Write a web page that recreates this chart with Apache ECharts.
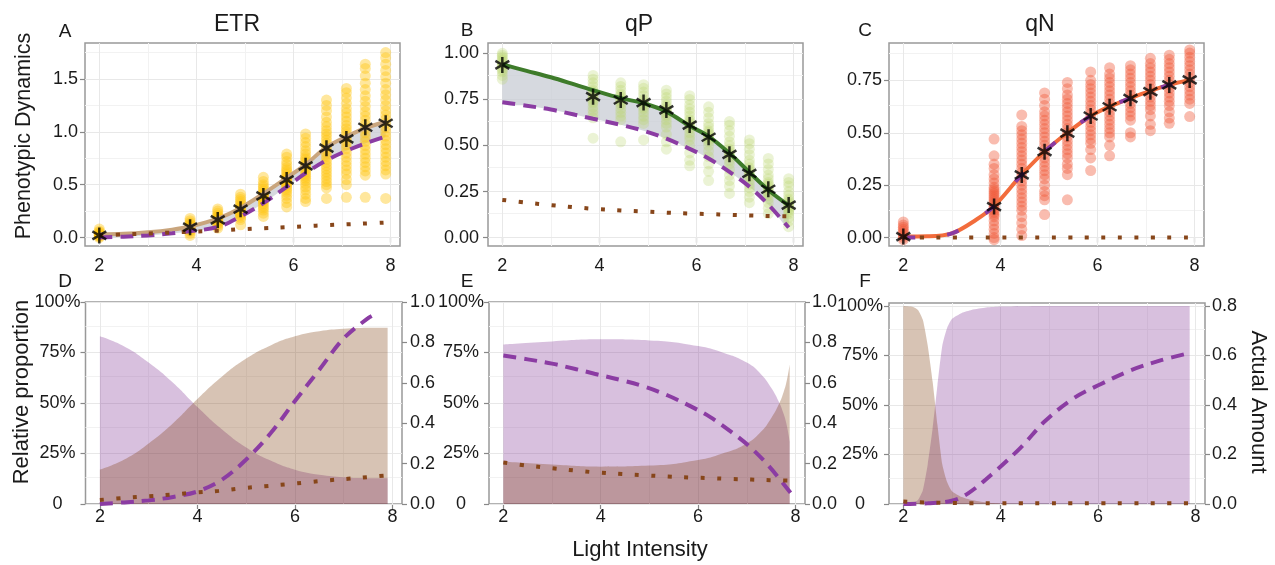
<!DOCTYPE html>
<html><head><meta charset="utf-8">
<script src="https://cdn.jsdelivr.net/npm/echarts@6/dist/echarts.min.js"></script>
<style>html,body{margin:0;padding:0;background:#fff}#c{width:1275px;height:565px}</style>
</head><body><div id="c"></div>
<script>
const FONT = '"Liberation Sans", Arial, Helvetica, sans-serif';
const TXT = '#1a1a1a';

// ---------- x positions (log light intensity) ----------
const lightX = [2.0, 3.87, 4.44, 4.91, 5.38, 5.86, 6.25, 6.68, 7.09, 7.48, 7.90];
const fitX = [2, 2.5, 3, 3.5, 3.87, 4.44, 4.91, 5.38, 5.86, 6.25, 6.68, 7.09, 7.48, 7.9];

// ---------- Panel A: ETR ----------
const etrPoints = [
  [0.0, 0.01, 0.015, 0.02, 0.025, 0.03, 0.035, 0.04, 0.05, 0.06, 0.08],
  [0.02, 0.04, 0.06, 0.07, 0.08, 0.09, 0.1, 0.105, 0.11, 0.12, 0.13, 0.14, 0.16, 0.18],
  [0.09, 0.11, 0.13, 0.14, 0.15, 0.16, 0.17, 0.18, 0.19, 0.2, 0.21, 0.23, 0.25, 0.27],
  [0.12, 0.17, 0.19, 0.21, 0.22, 0.23, 0.24, 0.25, 0.26, 0.27, 0.28, 0.29, 0.3, 0.32, 0.34, 0.36, 0.38, 0.41],
  [0.2, 0.23, 0.26, 0.28, 0.3, 0.32, 0.34, 0.35, 0.36, 0.37, 0.38, 0.39, 0.4, 0.41, 0.42, 0.44, 0.46, 0.48, 0.5, 0.53, 0.57],
  [0.29, 0.33, 0.37, 0.4, 0.43, 0.45, 0.47, 0.49, 0.5, 0.51, 0.52, 0.53, 0.54, 0.55, 0.56, 0.57, 0.58, 0.6, 0.62, 0.64, 0.66, 0.69, 0.72, 0.76, 0.79],
  [0.34, 0.37, 0.41, 0.45, 0.48, 0.51, 0.54, 0.56, 0.58, 0.6, 0.62, 0.64, 0.66, 0.68, 0.7, 0.72, 0.74, 0.76, 0.79, 0.82, 0.86, 0.9, 0.94, 0.98],
  [0.37, 0.47, 0.5, 0.53, 0.56, 0.59, 0.62, 0.65, 0.68, 0.71, 0.74, 0.77, 0.8, 0.83, 0.86, 0.89, 0.92, 0.95, 0.98, 1.01, 1.05, 1.09, 1.14, 1.2, 1.25, 1.3],
  [0.38, 0.5, 0.55, 0.6, 0.64, 0.68, 0.72, 0.76, 0.8, 0.84, 0.88, 0.91, 0.94, 0.97, 1.0, 1.03, 1.06, 1.1, 1.14, 1.18, 1.22, 1.27, 1.32, 1.37, 1.41],
  [0.38, 0.59, 0.63, 0.67, 0.71, 0.75, 0.79, 0.83, 0.87, 0.91, 0.95, 0.99, 1.03, 1.07, 1.11, 1.15, 1.19, 1.24, 1.29, 1.34, 1.4, 1.46, 1.53, 1.6, 1.64],
  [0.37, 0.6, 0.64, 0.68, 0.72, 0.76, 0.8, 0.84, 0.88, 0.92, 0.96, 1.0, 1.04, 1.08, 1.12, 1.16, 1.2, 1.25, 1.3, 1.35, 1.4, 1.46, 1.52, 1.58, 1.64, 1.7, 1.75]
];
const etrStars = [0.02, 0.098, 0.167, 0.268, 0.394, 0.545, 0.678, 0.845, 0.933, 1.043, 1.081];
const etrTotal = [0.03, 0.035, 0.05, 0.075, 0.105, 0.18, 0.28, 0.415, 0.565, 0.69, 0.855, 0.955, 1.035, 1.095];
const etrPurple = [0.0, 0.008, 0.02, 0.04, 0.06, 0.10, 0.20, 0.325, 0.48, 0.61, 0.73, 0.82, 0.89, 0.955];
const etrBrown = [0.02, 0.03, 0.038, 0.047, 0.055, 0.065, 0.078, 0.088, 0.098, 0.107, 0.117, 0.125, 0.133, 0.142];

// ---------- Panel B: qP ----------
const qpPoints = [
  [0.86, 0.88, 0.9, 0.91, 0.92, 0.93, 0.94, 0.95, 0.96, 0.97, 0.98, 0.99, 1.0],
  [0.54, 0.65, 0.67, 0.69, 0.71, 0.73, 0.74, 0.75, 0.76, 0.77, 0.78, 0.79, 0.8, 0.82, 0.84, 0.86, 0.88],
  [0.52, 0.64, 0.66, 0.68, 0.7, 0.72, 0.73, 0.74, 0.75, 0.76, 0.77, 0.78, 0.8, 0.82, 0.84],
  [0.53, 0.62, 0.64, 0.66, 0.68, 0.7, 0.71, 0.72, 0.73, 0.74, 0.75, 0.77, 0.79, 0.81, 0.83],
  [0.48, 0.52, 0.56, 0.6, 0.62, 0.64, 0.66, 0.67, 0.68, 0.69, 0.7, 0.71, 0.72, 0.74, 0.76, 0.78, 0.8],
  [0.39, 0.42, 0.46, 0.5, 0.53, 0.55, 0.57, 0.59, 0.6, 0.61, 0.62, 0.63, 0.64, 0.66, 0.68, 0.7, 0.72, 0.75, 0.77],
  [0.31, 0.36, 0.4, 0.44, 0.47, 0.5, 0.52, 0.53, 0.54, 0.55, 0.56, 0.57, 0.58, 0.6, 0.62, 0.65, 0.68, 0.71],
  [0.24, 0.28, 0.31, 0.34, 0.37, 0.4, 0.42, 0.44, 0.45, 0.46, 0.47, 0.48, 0.5, 0.52, 0.55, 0.58, 0.61, 0.63],
  [0.19, 0.22, 0.25, 0.27, 0.29, 0.31, 0.33, 0.34, 0.35, 0.36, 0.37, 0.38, 0.4, 0.42, 0.45, 0.48, 0.51, 0.53],
  [0.13, 0.16, 0.19, 0.21, 0.23, 0.24, 0.25, 0.26, 0.27, 0.28, 0.29, 0.3, 0.32, 0.34, 0.37, 0.4, 0.43],
  [0.06, 0.09, 0.11, 0.13, 0.14, 0.15, 0.16, 0.17, 0.18, 0.19, 0.2, 0.21, 0.23, 0.25, 0.28, 0.3, 0.32]
];
const qpStars = [0.937, 0.765, 0.747, 0.733, 0.693, 0.611, 0.545, 0.452, 0.349, 0.263, 0.177];
const qpTotal = [0.94, 0.905, 0.87, 0.83, 0.80, 0.757, 0.729, 0.684, 0.606, 0.55, 0.458, 0.355, 0.259, 0.175];
const qpPurple = [0.735, 0.716, 0.695, 0.667, 0.645, 0.612, 0.58, 0.537, 0.482, 0.43, 0.357, 0.277, 0.18, 0.055];
const qpBrown = [0.205, 0.19, 0.177, 0.165, 0.157, 0.148, 0.142, 0.136, 0.131, 0.128, 0.124, 0.121, 0.118, 0.116];

// ---------- Panel C: qN ----------
const qnPoints = [
  [-0.01, 0.0, 0.01, 0.02, 0.03, 0.04, 0.05, 0.06, 0.075],
  [-0.01, 0.0, 0.02, 0.04, 0.06, 0.08, 0.1, 0.11, 0.12, 0.13, 0.14, 0.15, 0.16, 0.17, 0.18, 0.19, 0.2, 0.21, 0.22, 0.23, 0.24, 0.26, 0.28, 0.3, 0.33, 0.35, 0.39, 0.47],
  [0.01, 0.04, 0.07, 0.1, 0.13, 0.15, 0.17, 0.19, 0.21, 0.23, 0.25, 0.27, 0.29, 0.31, 0.33, 0.35, 0.37, 0.39, 0.41, 0.43, 0.45, 0.47, 0.49, 0.51, 0.53, 0.585],
  [0.11, 0.18, 0.2, 0.22, 0.25, 0.28, 0.3, 0.32, 0.34, 0.36, 0.38, 0.4, 0.42, 0.44, 0.46, 0.48, 0.5, 0.52, 0.54, 0.56, 0.58, 0.6, 0.63, 0.66, 0.69],
  [0.18, 0.3, 0.33, 0.35, 0.38, 0.4, 0.42, 0.44, 0.46, 0.48, 0.5, 0.52, 0.54, 0.56, 0.58, 0.6, 0.62, 0.64, 0.66, 0.68, 0.71, 0.74],
  [0.32, 0.38, 0.42, 0.45, 0.47, 0.49, 0.51, 0.53, 0.55, 0.57, 0.59, 0.61, 0.63, 0.65, 0.67, 0.69, 0.71, 0.73, 0.75, 0.79],
  [0.39, 0.44, 0.48, 0.5, 0.52, 0.54, 0.56, 0.58, 0.6, 0.62, 0.64, 0.66, 0.68, 0.7, 0.72, 0.74, 0.76, 0.78, 0.81],
  [0.48, 0.5, 0.56, 0.58, 0.6, 0.62, 0.64, 0.66, 0.68, 0.7, 0.72, 0.74, 0.76, 0.78, 0.8, 0.82],
  [0.51, 0.54, 0.58, 0.61, 0.63, 0.65, 0.67, 0.69, 0.71, 0.73, 0.75, 0.77, 0.79, 0.81, 0.83, 0.855],
  [0.545, 0.57, 0.6, 0.63, 0.65, 0.67, 0.69, 0.71, 0.73, 0.75, 0.77, 0.79, 0.81, 0.83, 0.85, 0.87],
  [0.577, 0.64, 0.66, 0.68, 0.7, 0.72, 0.74, 0.76, 0.78, 0.8, 0.82, 0.84, 0.86, 0.88, 0.895]
];
const qnStars = [0.005, 0.148, 0.299, 0.41, 0.498, 0.58, 0.624, 0.664, 0.696, 0.728, 0.752];
const qnTotal = [0.005, 0.006, 0.02, 0.085, 0.15, 0.30, 0.41, 0.50, 0.58, 0.625, 0.665, 0.70, 0.728, 0.752];
const qnPurple = [0.0, 0.004, 0.02, 0.085, 0.15, 0.30, 0.41, 0.50, 0.58, 0.625, 0.665, 0.70, 0.728, 0.752];
const qnBrown = [0, 0, 0, 0, 0, 0, 0, 0, 0, 0, 0, 0, 0, 0];

// ---------- Panel D: ETR proportions ----------
const dAreaX = [2, 2.5, 3, 3.5, 4, 4.5, 5, 5.5, 6, 6.5, 7, 7.5, 7.9];
const dPurpleShare = [0.83, 0.78, 0.70, 0.60, 0.48, 0.37, 0.28, 0.215, 0.17, 0.145, 0.133, 0.128, 0.127];
const dBrownShare = [0.17, 0.22, 0.30, 0.40, 0.52, 0.63, 0.72, 0.785, 0.83, 0.855, 0.867, 0.872, 0.873];
const dDashX = [2, 2.5, 3, 3.5, 4, 4.5, 5, 5.5, 6, 6.5, 7, 7.5, 7.65];
const dPurpleAmt = [0.0, 0.008, 0.018, 0.035, 0.062, 0.12, 0.22, 0.35, 0.51, 0.665, 0.82, 0.92, 0.94];

// ---------- Panel E: qP proportions ----------
const eAreaX = [2, 3, 4, 5, 6, 6.5, 7, 7.3, 7.5, 7.65, 7.75, 7.82, 7.88];
const ePurpleShare = [0.79, 0.805, 0.815, 0.81, 0.782, 0.75, 0.70, 0.64, 0.575, 0.51, 0.45, 0.39, 0.31];
const eBrownShare = [0.21, 0.195, 0.185, 0.19, 0.218, 0.25, 0.30, 0.36, 0.425, 0.49, 0.55, 0.61, 0.69];

// ---------- Panel F: qN proportions ----------
const fAreaX = [2, 2.2, 2.3, 2.4, 2.5, 2.6, 2.7, 2.8, 2.9, 3.0, 3.2, 3.4, 3.7, 4.0, 5.0, 6.0, 7.0, 7.88];
const fBrownShare = [1.0, 0.995, 0.98, 0.93, 0.8, 0.62, 0.4, 0.2, 0.11, 0.065, 0.035, 0.02, 0.008, 0.003, 0.0, 0.0, 0.0, 0.0];
const fPurpleShare = [0.0, 0.005, 0.02, 0.07, 0.2, 0.38, 0.6, 0.8, 0.89, 0.935, 0.965, 0.98, 0.992, 0.997, 1.0, 1.0, 1.0, 1.0];
const fDashX = [2, 2.5, 2.99, 3.33, 3.88, 4.42, 4.9, 5.48, 6.06, 6.67, 7.28, 7.88];
const fPurpleAmt = [0.0, 0.003, 0.013, 0.043, 0.131, 0.23, 0.333, 0.425, 0.485, 0.54, 0.58, 0.61];
const fBrownAmt = [0.01, 0.006, 0.004, 0.003, 0.003, 0.003, 0.003, 0.003, 0.003, 0.003, 0.003, 0.003];

// ---------- ticks ----------
const xTicks = [2, 4, 6, 8];
const xMinorGrid = [3, 5, 7];
const etrTicks = [0, 0.5, 1.0, 1.5];
const etrMinor = [0.25, 0.75, 1.25, 1.75];
const qpTicks = [0, 0.25, 0.5, 0.75, 1.0];
const qnTicks = [0, 0.25, 0.5, 0.75];
const qMinor = [0.125, 0.375, 0.625, 0.875];
const pctTicks = [0, 0.25, 0.5, 0.75, 1.0];
const amtTicks = [0, 0.2, 0.4, 0.6, 0.8, 1.0];
const amtTicksF = [0, 0.2, 0.4, 0.6, 0.8];

// ---------- styling ----------
const C_PURPLE = '#8B3CA3';
const C_BROWN = '#87461A';
const SM = 0.35;
const pair = (xs, ys) => xs.map((x, i) => [x, ys[i]]);

const grids = [
  {left: 85, top: 43, width: 315, height: 203},
  {left: 488, top: 43, width: 315, height: 203},
  {left: 889, top: 43, width: 315, height: 203},
  {left: 85.5, top: 302, width: 316.5, height: 202},
  {left: 489, top: 302, width: 316, height: 202},
  {left: 889, top: 303, width: 316, height: 201}
].map(g => Object.assign({show: true, borderColor: '#999', borderWidth: 1.5, backgroundColor: '#fff',
  containLabel: false, outerBoundsMode: 'none'}, g));

function xAxisCfg(gi, margin) {
  return {type: 'value', gridIndex: gi, min: 1.705, max: 8.195,
    axisLine: {show: false}, splitLine: {show: false},
    axisTick: {show: true, length: 5, customValues: xTicks, lineStyle: {color: '#888', width: 1.2}},
    axisLabel: {show: true, customValues: xTicks, margin: margin, fontSize: 18, fontFamily: FONT, color: TXT,
      formatter: v => String(v)}};
}
function yAxisCfg(gi, min, max, ticks, fmt, pos, margin, align) {
  return {type: 'value', gridIndex: gi, min: min, max: max, position: pos,
    axisLine: {show: false}, splitLine: {show: false},
    axisTick: {show: true, length: 5, customValues: ticks, lineStyle: {color: '#888', width: 1.2}},
    axisLabel: {show: true, customValues: ticks, margin: margin, align: align, fontSize: 18, fontFamily: FONT,
      color: TXT, formatter: fmt}};
}
const f1 = v => v.toFixed(1);
const f2 = v => v.toFixed(2);
const fp = v => v === 0 ? '0' : Math.round(v * 100) + '%';

const xAxes = [0, 1, 2].map(g => xAxisCfg(g, 11)).concat([3, 4, 5].map(g => xAxisCfg(g, 4)));
const yAxes = [
  yAxisCfg(0, -0.08, 1.84, etrTicks, f1, 'left', 7, 'right'),
  yAxisCfg(1, -0.045, 1.056, qpTicks, f2, 'left', 9, 'right'),
  yAxisCfg(2, -0.04, 0.928, qnTicks, f2, 'left', 7, 'right'),
  yAxisCfg(3, 0, 1, pctTicks, fp, 'left', 28, 'center'),
  yAxisCfg(4, 0, 1, pctTicks, fp, 'left', 28, 'center'),
  yAxisCfg(5, 0, 1.015, pctTicks, fp, 'left', 29, 'center'),
  yAxisCfg(3, 0, 1, amtTicks, f1, 'right', 8, 'left'),
  yAxisCfg(4, 0, 1, amtTicks, f1, 'right', 7, 'left'),
  yAxisCfg(5, 0, 0.812, amtTicksF, f1, 'right', 7, 'left')
];

const series = [];
function gridLines(gi, yi, yMaj, yMin) {
  const mk = (arr, key, color) => arr.map(v => ({[key]: v, lineStyle: {color: color, width: 1, type: 'solid'}}));
  series.push({type: 'line', xAxisIndex: gi, yAxisIndex: yi, data: [[2, yMaj[0]]], symbol: 'none',
    lineStyle: {width: 0, opacity: 0}, silent: true, z: 1,
    markLine: {silent: true, symbol: ['none', 'none'], animation: false, label: {show: false}, z: 1,
      lineStyle: {type: 'solid'},
      emphasis: {disabled: true},
      data: [].concat(mk(xMinorGrid, 'xAxis', '#f2f2f2'), mk(yMin, 'yAxis', '#f2f2f2'),
        mk(xTicks, 'xAxis', '#e8e8e8'), mk(yMaj, 'yAxis', '#e8e8e8'))}});
}
gridLines(0, 0, etrTicks, etrMinor);
gridLines(1, 1, qpTicks, qMinor);
gridLines(2, 2, qnTicks, qMinor);
gridLines(3, 3, pctTicks, qMinor);
gridLines(4, 4, pctTicks, qMinor);
gridLines(5, 5, pctTicks, qMinor);

function points(gi, cols, color) {
  series.push({type: 'scatter', xAxisIndex: gi, yAxisIndex: gi, symbol: 'circle', symbolSize: 11, silent: true,
    itemStyle: {color: color, borderWidth: 0},
    data: lightX.flatMap((x, i) => cols[i].map(v => [x, v]))});
}
// grey band between the fitted total and the purple component (custom polygon through axis coords)
function ribbon(gi, xs, upper, lower) {
  series.push({type: 'custom', xAxisIndex: gi, yAxisIndex: gi, silent: true, clip: true,
    data: [[xs[0], upper[0]]], encode: {x: 0, y: 1},
    renderItem: function (params, api) {
      const up = xs.map((x, i) => api.coord([x, upper[i]]));
      const lo = xs.map((x, i) => api.coord([x, lower[i]])).reverse();
      const x0 = up[0][0], x1 = up[up.length - 1][0];
      return {type: 'polygon',
        shape: {points: up.concat(lo), smooth: SM, smoothConstraint: [[x0, -10000], [x1, 10000]]},
        style: {fill: 'rgba(200,204,212,0.75)', stroke: null}};
    }});
}
function line(gi, yi, xs, ys, style, sm) {
  series.push({type: 'line', xAxisIndex: gi, yAxisIndex: yi, data: pair(xs, ys), smooth: sm === undefined ? SM : sm,
    symbol: 'none', silent: true, lineStyle: style});
}
function area(gi, yi, xs, ys, color, sm) {
  series.push({type: 'line', xAxisIndex: gi, yAxisIndex: yi, data: pair(xs, ys), smooth: sm === undefined ? 0.5 : sm,
    symbol: 'none', silent: true, lineStyle: {width: 0, opacity: 0}, areaStyle: {color: color, opacity: 1}});
}
const STAR = 'path://M0,-10L0,10M-8.66,-5L8.66,5M-8.66,5L8.66,-5';
function stars(gi, ys) {
  series.push({type: 'scatter', xAxisIndex: gi, yAxisIndex: gi, symbol: STAR, symbolSize: 16, symbolKeepAspect: true,
    silent: true, z: 4, itemStyle: {color: '#000', borderColor: '#000', borderWidth: 2.5},
    data: pair(lightX, ys)});
}
const dashS = {color: C_PURPLE, width: 4, type: [13, 8], cap: 'butt'};
const dotS = {color: C_BROWN, width: 4, type: [4, 12.5], cap: 'butt'};

// A
points(0, etrPoints, 'rgba(255,198,20,0.52)');
ribbon(0, fitX, etrTotal, etrPurple);
line(0, 0, fitX, etrTotal, {color: '#C9A57D', width: 4});
line(0, 0, fitX, etrPurple, dashS);
line(0, 0, fitX, etrBrown, dotS);
stars(0, etrStars);
// B
points(1, qpPoints, 'rgba(185,215,110,0.36)');
ribbon(1, fitX, qpTotal, qpPurple);
line(1, 1, fitX, qpTotal, {color: '#3E7B2A', width: 4});
line(1, 1, fitX, qpPurple, dashS);
line(1, 1, fitX, qpBrown, dotS);
stars(1, qpStars);
// C
points(2, qnPoints, 'rgba(240,88,55,0.5)');
line(2, 2, fitX, qnTotal, {color: '#F26C3C', width: 4});
line(2, 2, fitX, qnPurple, {color: C_PURPLE, width: 4, type: [12, 32], cap: 'butt'});
line(2, 2, fitX, qnBrown, dotS);
stars(2, qnStars);
// D
area(3, 3, dAreaX, dPurpleShare, 'rgba(125,45,145,0.3)');
area(3, 3, dAreaX, dBrownShare, 'rgba(122,55,5,0.3)');
line(3, 6, dDashX, dPurpleAmt, dashS);
line(3, 6, fitX, etrBrown, dotS);
// E
area(4, 4, eAreaX, ePurpleShare, 'rgba(125,45,145,0.3)');
area(4, 4, eAreaX, eBrownShare, 'rgba(122,55,5,0.3)');
line(4, 7, fitX, qpPurple, dashS);
line(4, 7, fitX, qpBrown, dotS);
// F
area(5, 5, fAreaX, fPurpleShare, 'rgba(125,45,145,0.3)', 0.2);
area(5, 5, fAreaX, fBrownShare, 'rgba(122,55,5,0.3)', 0.2);
line(5, 8, fDashX, fPurpleAmt, dashS);
line(5, 8, fDashX, fBrownAmt, dotS);

function txt(text, x, y, size, rot) {
  return {type: 'text', x: x, y: y, rotation: rot || 0, silent: true, z: 10,
    style: {text: text, font: size + 'px ' + FONT, fill: TXT, align: 'center', verticalAlign: 'middle'}};
}
const graphic = [
  txt('ETR', 237, 25, 23), txt('qP', 639, 25, 23), txt('qN', 1040, 25, 23),
  txt('A', 65, 32, 19), txt('B', 467, 31, 19), txt('C', 865, 31, 19),
  txt('D', 65, 282, 19), txt('E', 467, 282, 19), txt('F', 865, 282, 19),
  txt('Phenotypic Dynamics', 24, 136, 21.5, Math.PI / 2),
  txt('Relative proportion', 22, 392, 22, Math.PI / 2),
  txt('Actual Amount', 1258, 402, 22, -Math.PI / 2),
  txt('Light Intensity', 640, 550, 22)
];

const chart = echarts.init(document.getElementById('c'), null, {renderer: 'canvas'});
chart.setOption({
  animation: false,
  backgroundColor: '#fff',
  grid: grids,
  xAxis: xAxes,
  yAxis: yAxes,
  series: series,
  graphic: graphic
});
</script></body></html>
